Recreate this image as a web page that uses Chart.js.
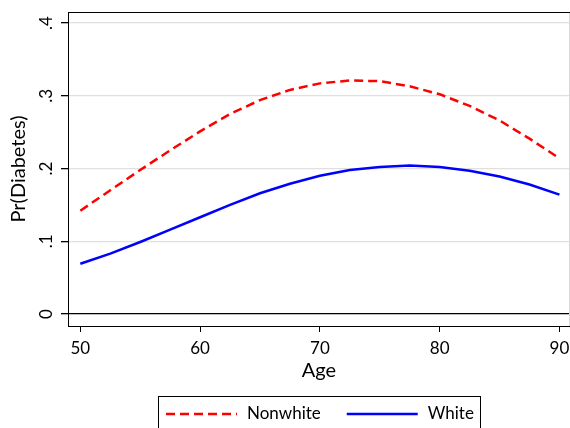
<!DOCTYPE html>
<html>
<head>
<meta charset="utf-8">
<script src="https://cdn.jsdelivr.net/npm/chart.js@4.4.0/dist/chart.umd.min.js"></script>
<style>
  body { margin: 0; background: #fff; }
  canvas { display: block; }
</style>
</head>
<body>
<canvas id="chart" width="570" height="428"></canvas>
<script>
// predicted probability of diabetes by age
var ages = [50, 52.5, 55, 57.5, 60, 62.5, 65, 67.5, 70, 72.5, 75, 77.5, 80, 82.5, 85, 87.5, 90];
var nonwhite = [0.142, 0.170, 0.198, 0.225, 0.251, 0.275, 0.294, 0.308, 0.317, 0.321, 0.320, 0.313, 0.302, 0.286, 0.266, 0.241, 0.214];
var white = [0.069, 0.083, 0.099, 0.116, 0.133, 0.150, 0.166, 0.179, 0.190, 0.198, 0.202, 0.204, 0.202, 0.197, 0.189, 0.178, 0.164];
var xTicks = [50, 60, 70, 80, 90];
var yTicks = [0, 0.1, 0.2, 0.3, 0.4];
var yTickLabels = ["0", ".1", ".2", ".3", ".4"];

var FONT = "Lato";

function points(vals) {
    var out = [];
    for (var i = 0; i < ages.length; i++) {
        out.push({ x: ages[i], y: vals[i] });
    }
    return out;
}

// no extra room for overhanging tick labels
function noPad(scale) {
    scale.paddingLeft = 0;
    scale.paddingRight = 0;
    scale.paddingTop = 0;
    scale.paddingBottom = 0;
}

// frame (top + right edge) and the boxed legend at the bottom
var extras = {
    id: "extras",
    afterDraw: function (chart) {
        var ctx = chart.ctx;
        var a = chart.chartArea;
        ctx.save();
        ctx.lineWidth = 1;
        ctx.strokeStyle = "#d8d8d8";
        ctx.beginPath();
        ctx.moveTo(a.right - 0.5, a.top);
        ctx.lineTo(a.right - 0.5, a.bottom);
        ctx.stroke();
        ctx.strokeStyle = "#000";
        ctx.beginPath();
        ctx.moveTo(a.left, a.top + 0.5);
        ctx.lineTo(a.right, a.top + 0.5);
        ctx.stroke();

        // legend
        ctx.strokeStyle = "#000";
        ctx.strokeRect(158.5, 396.5, 322, 40);
        ctx.font = "17px " + FONT;
        ctx.textBaseline = "middle";
        ctx.textAlign = "left";
        var x = 166, y = 414;
        chart.data.datasets.forEach(function (ds) {
            ctx.strokeStyle = ds.borderColor;
            ctx.lineWidth = ds.borderWidth;
            ctx.setLineDash(ds.borderDash || []);
            ctx.beginPath();
            ctx.moveTo(x, y);
            ctx.lineTo(x + 71, y);
            ctx.stroke();
            ctx.setLineDash([]);
            ctx.fillStyle = "#000";
            ctx.fillText(ds.label, x + 81, y);
            x = x + 81 + ctx.measureText(ds.label).width + 26;
        });
        ctx.restore();
    }
};

new Chart(document.getElementById("chart"), {
    type: "line",
    data: {
        datasets: [
            {
                label: "Nonwhite",
                data: points(nonwhite),
                borderColor: "#ff0000",
                borderWidth: 2.5,
                borderDash: [9, 5],
                pointRadius: 0,
                tension: 0,
                fill: false
            },
            {
                label: "White",
                data: points(white),
                borderColor: "#0000ff",
                borderWidth: 2.5,
                pointRadius: 0,
                tension: 0,
                fill: false
            }
        ]
    },
    options: {
        responsive: false,
        animation: false,
        devicePixelRatio: 1,
        layout: { autoPadding: false, padding: { top: 12, right: 0, bottom: 45, left: 0 } },
        plugins: {
            legend: { display: false },
            tooltip: { enabled: false }
        },
        scales: {
            x: {
                type: "linear",
                min: 48.97,
                max: 90.88,
                afterBuildTicks: function (scale) {
                    scale.ticks = xTicks.map(function (v) { return { value: v }; });
                },
                afterFit: function (scale) {
                    scale.height = 57;
                    noPad(scale);
                },
                ticks: {
                    autoSkip: false,
                    maxRotation: 0,
                    padding: 6,
                    color: "#000",
                    font: { family: FONT, size: 17 }
                },
                grid: {
                    drawOnChartArea: false,
                    tickLength: 6,
                    tickColor: "#000"
                },
                border: { color: "#000", width: 1 },
                title: {
                    display: true,
                    text: "Age",
                    color: "#000",
                    padding: 0,
                    font: { family: FONT, size: 20 }
                }
            },
            y: {
                type: "linear",
                min: -0.0165,
                max: 0.4151,
                afterBuildTicks: function (scale) {
                    scale.ticks = yTicks.map(function (v) { return { value: v }; });
                },
                afterFit: function (scale) {
                    scale.width = 68;
                    noPad(scale);
                },
                ticks: {
                    autoSkip: false,
                    minRotation: 90,
                    maxRotation: 90,
                    crossAlign: "center",
                    padding: 8,
                    color: "#000",
                    font: { family: FONT, size: 17 },
                    callback: function (v) {
                        var i = yTicks.indexOf(v);
                        return i >= 0 ? yTickLabels[i] : "";
                    }
                },
                grid: {
                    tickLength: 7,
                    tickColor: "#000",
                    lineWidth: 1.3,
                    color: function (c) {
                        return c.tick && c.tick.value === 0 ? "#000" : "#e0e0e0";
                    }
                },
                border: { color: "#000", width: 1 },
                title: {
                    display: true,
                    text: "Pr(Diabetes)",
                    color: "#000",
                    padding: { top: 7, bottom: 0 },
                    font: { family: FONT, size: 20 }
                }
            }
        }
    },
    plugins: [extras]
});
</script>
</body>
</html>
